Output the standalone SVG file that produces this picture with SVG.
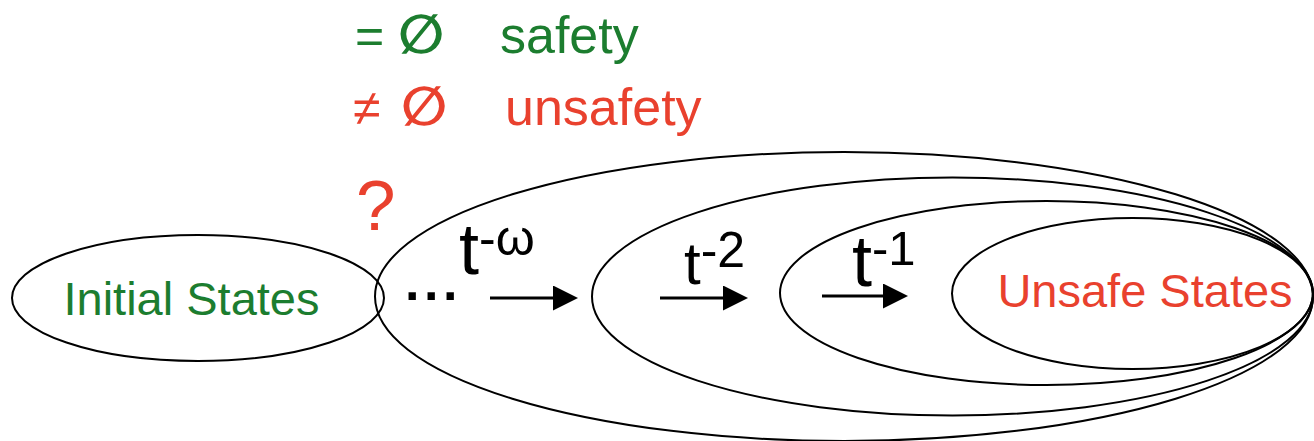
<svg xmlns="http://www.w3.org/2000/svg" width="1314" height="441" viewBox="0 0 1314 441">
<style>
.sh{fill:none;stroke:#000;stroke-width:2}
.t{font-family:"Liberation Sans",Arial,sans-serif}
.e{font-family:"DejaVu Sans","Liberation Sans",sans-serif;font-weight:bold}
.g{fill:#1c7d2f}
.r{fill:#e9412e}
.k{fill:#000}
.ar{stroke:#000;stroke-width:3;fill:none}
</style>
<defs>
<marker id="ah" markerUnits="userSpaceOnUse" markerWidth="25" markerHeight="25" refX="0" refY="12.5" orient="auto">
<path d="M0,0 L25,12.5 L0,25 z" fill="#000"/>
</marker>
</defs>
<rect width="1314" height="441" fill="#fff"/>
<g id="legend">
<text x="355" y="53" font-size="50" class="t g">=</text>
<text x="398" y="53" font-size="54" class="e g">∅</text>
<text x="500" y="53" font-size="52" class="t g">safety</text>
<text x="353" y="125" font-size="50" class="t r">≠</text>
<text x="401" y="125" font-size="54" class="e r">∅</text>
<text x="505" y="125" font-size="52" class="t r">unsafety</text>
<text x="356" y="230" font-size="71" class="t r">?</text>
</g>
<g id="pre-omega"><ellipse class="sh" cx="844" cy="296.5" rx="469" ry="144.5"/></g>
<g id="pre-2"><ellipse class="sh" cx="952.5" cy="296.5" rx="360.5" ry="119"/></g>
<g id="pre-1"><ellipse class="sh" cx="1046.5" cy="293" rx="266.5" ry="92"/></g>
<g id="unsafe">
<ellipse class="sh" cx="1132.5" cy="293.5" rx="180.5" ry="75.5"/>
<text x="1145" y="307" font-size="47" text-anchor="middle" class="t r">Unsafe States</text>
</g>
<g id="initial">
<ellipse class="sh" cx="198" cy="298" rx="186" ry="63"/>
<text x="191.5" y="315" font-size="47" text-anchor="middle" class="t g">Initial States</text>
</g>
<g id="connectors">
<line class="ar" x1="490" y1="298" x2="553" y2="298" marker-end="url(#ah)"/>
<line class="ar" x1="660" y1="298" x2="723" y2="298" marker-end="url(#ah)"/>
<line class="ar" x1="822" y1="296" x2="883" y2="296" marker-end="url(#ah)"/>
</g>
<g id="labels" class="t k">
<text x="405 424 443" y="300" font-size="52" font-weight="bold">...</text>
<text x="459" y="274" font-size="72">t<tspan font-size="50" dy="-19">-ω</tspan></text>
<text x="684" y="284" font-size="60">t<tspan font-size="50" dy="-17">-2</tspan></text>
<text x="852" y="286" font-size="72">t<tspan font-size="49" dy="-21">-1</tspan></text>
</g>
</svg>
